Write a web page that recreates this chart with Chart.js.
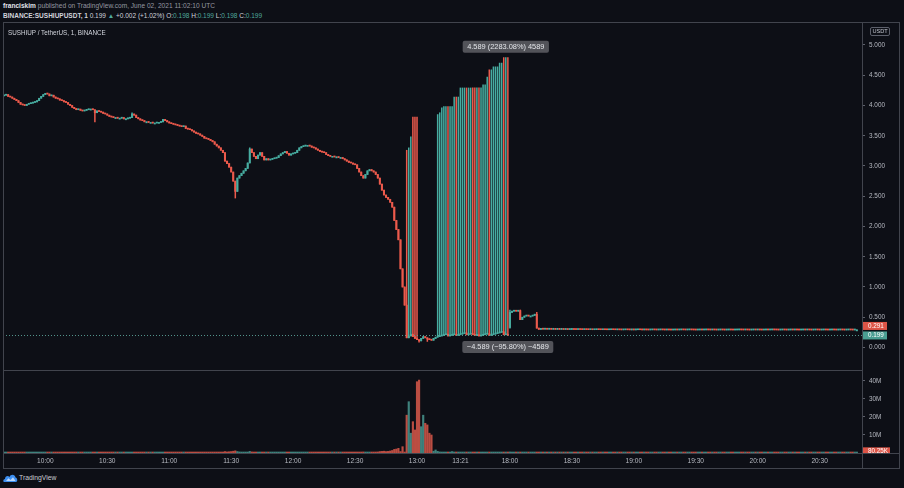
<!DOCTYPE html>
<html><head><meta charset="utf-8">
<script src="https://cdn.jsdelivr.net/npm/chart.js@4.4.1/dist/chart.umd.min.js"></script>
<style>
html,body{margin:0;padding:0;background:#0d0f16;width:904px;height:488px;overflow:hidden;font-family:"Liberation Sans",Arial,"DejaVu Sans",sans-serif;}
.a{position:absolute;white-space:nowrap;}
.ln{position:absolute;background:#41444d;}
#h1{left:3px;top:2px;font-size:6.6px;line-height:8px;color:#9598a1;}
#h1 b{color:#e0e3eb;}
#h2{left:3px;top:12px;font-size:6.5px;line-height:8px;color:#d1d4dc;}
#h2 .g{color:#4fa89d;}
#title{left:8px;top:28.5px;font-size:6.3px;line-height:8px;color:#d1d4dc;}
#usdt{left:870px;top:26.5px;font-size:5.6px;line-height:7px;color:#c3c6ce;border:1px solid #5d606b;border-radius:2px;padding:0 1.5px;}
#tv{left:19px;top:474px;font-size:6.8px;line-height:8px;color:#c8cbd3;}
canvas{position:absolute;}
</style></head>
<body>
<div id="h1" class="a"><b>franciskim</b> published on TradingView.com, June 02, 2021 11:02:10 UTC</div>
<div id="h2" class="a"><b>BINANCE:SUSHIUPUSDT, 1</b> 0.199 <span class="g">▲</span> +0.002 (+1.02%) O:<span class="g">0.198</span> H:<span class="g">0.199</span> L:<span class="g">0.198</span> C:<span class="g">0.199</span></div>
<canvas id="pc" width="896" height="348" style="left:3px;top:22px;width:896px;height:348px"></canvas>
<canvas id="vc" width="896" height="98" style="left:3px;top:370px;width:896px;height:98px"></canvas>
<div class="ln" style="left:3px;top:22px;width:897px;height:1px"></div>
<div class="ln" style="left:3px;top:468px;width:897px;height:1px"></div>
<div class="ln" style="left:3px;top:22px;width:1px;height:447px"></div>
<div class="ln" style="left:899px;top:22px;width:1px;height:447px"></div>
<div class="ln" style="left:862px;top:22px;width:1px;height:447px"></div>
<div class="ln" style="left:3px;top:370px;width:859px;height:1px"></div>
<div class="ln" style="left:3px;top:453px;width:897px;height:1px"></div>
<div id="title" class="a">SUSHIUP / TetherUS, 1, BINANCE</div>
<div id="usdt" class="a">USDT</div>
<svg class="a" style="left:3px;top:473px" width="15" height="10" viewBox="0 0 15 10">
<path d="M1 9 C0 9 0 6 2 6 C2 3 5 2 6.5 4 C7.5 1 12 1 12.5 4.5 C14.5 4.5 15 9 13 9 Z" fill="#3d8ff0"/>
<path d="M3 8 L5.5 5.2 L7.5 7 L10 4.2 L12.5 8 Z" fill="#bcd8fb"/>
</svg>
<div id="tv" class="a">TradingView</div>
<script>
// ---------- data ----------
const sessions = [["09:40", 245], ["18:00", 171]];
const tickTimes = ["10:00","10:30","11:00","11:30","12:00","12:30","13:00","13:21","18:00","18:30","19:00","19:30","20:00","20:30"];
const priceTicks = [0, 0.5, 1, 1.5, 2, 2.5, 3, 3.5, 4, 4.5, 5];
const volTicks = [10, 20, 30, 40];
const firstOpen = 4.16;
const closes = [
4.17,4.18,4.15,4.14,4.12,4.10,4.08,4.05,4.02,4.01,
4.00,4.02,4.03,4.04,4.05,4.06,4.08,4.12,4.15,4.18,
4.20,4.19,4.16,4.17,4.14,4.12,4.11,4.09,4.08,4.06,
4.05,4.02,4.00,3.97,3.95,3.93,3.94,3.92,3.91,3.92,
3.93,3.94,3.94,3.93,3.88,3.91,3.90,3.89,3.87,3.86,
3.84,3.82,3.81,3.80,3.80,3.79,3.79,3.80,3.78,3.78,
3.79,3.80,3.86,3.84,3.80,3.78,3.76,3.75,3.73,3.73,
3.72,3.72,3.71,3.71,3.72,3.72,3.73,3.77,3.75,3.73,
3.71,3.70,3.69,3.68,3.67,3.66,3.65,3.66,3.62,3.61,
3.60,3.58,3.56,3.54,3.53,3.51,3.49,3.46,3.45,3.44,
3.42,3.40,3.36,3.33,3.30,3.26,3.22,3.08,3.04,2.98,
2.90,2.75,2.58,2.80,2.84,2.88,2.92,2.96,3.05,3.28,
3.22,3.16,3.12,3.18,3.22,3.16,3.10,3.12,3.10,3.11,
3.12,3.13,3.14,3.17,3.20,3.22,3.24,3.21,3.18,3.20,
3.21,3.22,3.26,3.30,3.32,3.33,3.34,3.34,3.33,3.31,
3.30,3.28,3.26,3.24,3.23,3.22,3.19,3.17,3.16,3.16,
3.15,3.15,3.14,3.14,3.12,3.10,3.08,3.06,3.05,3.03,
3.02,2.96,2.90,2.84,2.80,2.86,2.92,2.94,2.92,2.90,
2.86,2.80,2.70,2.60,2.52,2.48,2.45,2.40,2.32,2.10,
1.95,1.78,1.30,1.00,0.70,0.16,0.19,0.22,0.18,0.15,
0.13,0.11,0.15,0.18,0.16,0.14,0.13,0.12,0.15,0.17,
0.18,0.19,0.20,0.21,0.22,0.19,0.20,0.21,0.22,0.20,
0.21,0.22,0.23,0.24,0.21,0.22,0.23,0.21,0.20,0.21,
0.19,0.20,0.21,0.22,0.23,0.20,0.21,0.22,0.23,0.24,
0.25,0.26,0.21,0.22,0.20,0.58,0.60,0.61,0.60,0.61,
0.46,0.50,0.52,0.53,0.52,0.52,0.53,0.55,0.32,0.30,
0.305,0.303,0.304,0.302,0.303,0.301,0.302,0.300,0.301,0.300,
0.301,0.299,0.300,0.298,0.299,0.300,0.298,0.297,0.298,0.297,
0.296,0.297,0.296,0.295,0.296,0.294,0.295,0.296,0.295,0.294,
0.295,0.294,0.293,0.294,0.295,0.294,0.293,0.294,0.293,0.292,
0.293,0.294,0.293,0.292,0.293,0.292,0.293,0.294,0.293,0.292,
0.293,0.292,0.291,0.292,0.293,0.292,0.291,0.292,0.293,0.292,
0.291,0.292,0.291,0.290,0.291,0.292,0.291,0.292,0.293,0.292,
0.291,0.292,0.293,0.292,0.291,0.290,0.291,0.292,0.291,0.292,
0.293,0.292,0.291,0.292,0.291,0.290,0.291,0.292,0.291,0.290,
0.291,0.292,0.291,0.290,0.291,0.292,0.293,0.292,0.291,0.292,
0.291,0.290,0.291,0.292,0.291,0.292,0.291,0.290,0.291,0.292,
0.291,0.292,0.293,0.292,0.291,0.290,0.291,0.292,0.291,0.290,
0.291,0.292,0.291,0.292,0.291,0.290,0.291,0.292,0.291,0.292,
0.291,0.290,0.291,0.292,0.291,0.290,0.291,0.292,0.291,0.290,
0.291,0.292,0.291,0.290,0.291,0.292,0.291,0.290,0.291,0.292,
0.291,0.290,0.291,0.291
];
const spikeStart = 195;
const spikeHighs = [
3.26,3.30,3.48,3.81,3.81,3.81,
null,null,null,null,null,null,null,null,null,
3.85,3.88,3.96,3.98,3.98,3.98,3.98,3.98,4.14,4.14,
4.14,4.29,4.29,4.29,4.29,4.29,4.29,4.29,4.29,4.29,
4.29,4.29,4.34,4.34,4.47,4.59,4.59,4.64,4.64,4.64,
4.70,4.70,4.79,4.79,4.79
];
const extraHighs = [[62,3.88],[119,3.30],[245,0.62],[250,0.62],[258,0.58]];
const extraLows = [[44,3.73],[112,2.47],[201,0.09],[205,0.10],[245,0.32]];
const openOverrides = [[245,0.33]];
const volumes = [
0.4,0.3,0.3,0.2,0.3,0.2,0.3,0.4,0.3,0.2,
0.2,0.3,0.2,0.2,0.3,0.2,0.3,0.4,0.3,0.4,
0.5,0.3,0.3,0.2,0.3,0.2,0.2,0.3,0.2,0.3,
0.2,0.3,0.3,0.2,0.2,0.3,0.2,0.2,0.3,0.2,
0.2,0.3,0.2,0.2,0.4,0.3,0.2,0.2,0.2,0.3,
0.2,0.2,0.3,0.2,0.2,0.2,0.3,0.2,0.2,0.3,
0.2,0.3,0.5,0.3,0.2,0.2,0.3,0.2,0.2,0.3,
0.2,0.2,0.3,0.2,0.2,0.2,0.3,0.4,0.2,0.2,
0.3,0.2,0.2,0.3,0.2,0.2,0.3,0.2,0.3,0.2,
0.3,0.2,0.3,0.2,0.3,0.3,0.2,0.3,0.2,0.3,
0.3,0.3,0.4,0.3,0.3,0.4,0.4,0.8,0.6,0.7,
0.8,1.0,1.2,0.8,0.6,0.5,0.4,0.4,0.5,0.9,
0.6,0.4,0.4,0.3,0.4,0.3,0.3,0.2,0.3,0.2,
0.2,0.3,0.2,0.3,0.3,0.2,0.3,0.2,0.2,0.3,
0.2,0.3,0.3,0.4,0.3,0.2,0.3,0.2,0.2,0.3,
0.2,0.3,0.2,0.2,0.3,0.2,0.3,0.2,0.2,0.2,
0.3,0.2,0.2,0.3,0.2,0.3,0.2,0.3,0.3,0.2,
0.3,0.4,0.5,0.5,0.6,0.4,0.4,0.3,0.3,0.4,
0.5,0.6,0.8,0.9,1.0,0.8,0.9,1.1,1.4,2.0,
2.2,2.6,0.8,3.5,0.5,21,28.5,11,17.4,12.8,
39.6,40.5,14.6,21,16.5,15.6,11,10,1.0,1.7,
0.9,0.6,0.5,0.5,0.4,0.4,0.5,0.8,0.4,0.3,
0.3,0.4,0.3,0.3,0.2,0.3,0.3,0.2,0.2,0.3,
0.2,0.2,0.3,0.2,0.2,0.3,0.2,0.2,0.3,0.2,
0.2,0.3,0.2,0.2,0.3,0.6,0.4,0.3,0.3,0.2,
0.3,0.2,0.2,0.2,0.2,0.2,0.2,0.2,0.4,0.3,
0.1,0.1,0.2,0.1,0.1,0.1,0.2,0.1,0.1,0.1,
0.1,0.2,0.1,0.1,0.1,0.1,0.1,0.2,0.1,0.1,
0.1,0.1,0.1,0.2,0.1,0.1,0.1,0.1,0.2,0.1,
0.1,0.1,0.2,0.1,0.1,0.1,0.1,0.1,0.1,0.2,
0.1,0.1,0.1,0.1,0.2,0.1,0.1,0.1,0.1,0.1,
0.2,0.1,0.1,0.1,0.1,0.1,0.2,0.1,0.1,0.1,
0.1,0.1,0.1,0.2,0.1,0.1,0.1,0.1,0.1,0.2,
0.1,0.1,0.1,0.1,0.1,0.2,0.1,0.1,0.1,0.1,
0.2,0.1,0.1,0.1,0.1,0.1,0.1,0.2,0.1,0.1,
0.1,0.1,0.2,0.1,0.1,0.1,0.1,0.1,0.2,0.1,
0.1,0.1,0.1,0.1,0.2,0.1,0.1,0.1,0.1,0.1,
0.1,0.2,0.1,0.1,0.1,0.1,0.2,0.1,0.1,0.1,
0.1,0.1,0.1,0.1,0.2,0.1,0.1,0.1,0.1,0.2,
0.1,0.1,0.2,0.1,0.1,0.1,0.1,0.1,0.1,0.1,
0.1,0.1,0.1,0.2,0.1,0.1,0.1,0.1,0.1,0.1,
0.1,0.1,0.1,0.1
];
const lastPrice = 0.199, markerPrice = 0.291, lastVolumeM = 0.08025;
const upperBoxText = "4.589 (2283.08%) 4589";
const lowerBoxText = "\u22124.589 (\u221295.80%) \u22124589";
const boxIndex = 243;

// ---------- derived ----------
const UP = '#47ada1', DOWN = '#ec5a4c';
const VUP = 'rgba(80,170,160,0.75)', VDOWN = 'rgba(236,95,80,0.78)';
const times = [];
sessions.forEach(([t, n]) => {
  const [h, m] = t.split(':').map(Number);
  for (let k = 0; k < n; k++) {
    const mm = h * 60 + m + k;
    times.push(String(Math.floor(mm / 60)).padStart(2, '0') + ':' + String(mm % 60).padStart(2, '0'));
  }
});
const opens = closes.map((c, i) => i === 0 ? firstOpen : closes[i - 1]);
openOverrides.forEach(([i, v]) => opens[i] = v);
const highs = closes.map((c, i) => Math.max(c, opens[i]));
const lows = closes.map((c, i) => Math.min(c, opens[i]));
spikeHighs.forEach((v, k) => { if (v !== null) highs[spikeStart + k] = Math.max(highs[spikeStart + k], v); });
extraHighs.forEach(([i, v]) => highs[i] = Math.max(highs[i], v));
extraLows.forEach(([i, v]) => lows[i] = Math.min(lows[i], v));
const isUp = closes.map((c, i) => c >= opens[i]);
const candleColors = isUp.map(u => u ? UP : DOWN);
const volColors = isUp.map(u => u ? VUP : VDOWN);
const bodies = closes.map((c, i) => [opens[i], c]);
const wicks = closes.map((c, i) => [lows[i], highs[i]]);

const FONT = '"Liberation Sans", Arial, sans-serif';
const AX = '#b7bac2';

function axisLabel(ctx, text, x, yc, w, h, bg) {
  ctx.fillStyle = bg;
  ctx.fillRect(x, yc - h / 2, w, h);
  ctx.fillStyle = '#ffffff';
  ctx.font = '6.3px ' + FONT;
  ctx.textBaseline = 'middle';
  ctx.textAlign = 'left';
  ctx.fillText(text, x + 6, yc + 0.3);
}
function roundBox(ctx, text, cx, top) {
  ctx.font = '7.4px ' + FONT;
  const w = ctx.measureText(text).width + 9;
  const h = 12, x = cx - w / 2;
  ctx.fillStyle = 'rgba(88,89,95,0.92)';
  ctx.beginPath();
  ctx.roundRect(x, top, w, h, 2);
  ctx.fill();
  ctx.fillStyle = '#e4e6ea';
  ctx.textAlign = 'center';
  ctx.textBaseline = 'middle';
  ctx.fillText(text, cx, top + h / 2 + 0.3);
}

const pricePlugin = {
  id: 'priceExtras',
  afterDatasetsDraw(chart) {
    const { ctx, chartArea, scales } = chart;
    const y = scales.y, x = scales.x;
    const yl = Math.round(y.getPixelForValue(lastPrice)) + 0.5;
    ctx.save();
    ctx.strokeStyle = 'rgba(95,170,160,0.85)';
    ctx.lineWidth = 1;
    ctx.setLineDash([1, 2]);
    ctx.beginPath();
    ctx.moveTo(chartArea.left, yl);
    ctx.lineTo(chartArea.right, yl);
    ctx.stroke();
    ctx.setLineDash([]);
    const maxHigh = Math.max(...highs);
    const cx = x.getPixelForValue(boxIndex);
    roundBox(ctx, upperBoxText, cx, y.getPixelForValue(maxHigh) - 17);
    roundBox(ctx, lowerBoxText, cx + 2, y.getPixelForValue(lastPrice) + 5.5);
    const yg = y.getPixelForValue(lastPrice);
    axisLabel(ctx, lastPrice.toFixed(3), chartArea.right, yg, 25, 8, '#4a9e92');
    axisLabel(ctx, markerPrice.toFixed(3), chartArea.right, Math.min(y.getPixelForValue(markerPrice), yg - 9.5), 25, 8, '#dd5547');
    ctx.restore();
  }
};
const volPlugin = {
  id: 'volExtras',
  afterDatasetsDraw(chart) {
    const { ctx, chartArea, scales } = chart;
    ctx.save();
    ctx.beginPath();
    ctx.rect(chartArea.right, chartArea.top, 40, chartArea.bottom - chartArea.top);
    ctx.clip();
    axisLabel(ctx, (lastVolumeM * 1000).toFixed(2) + 'K', chartArea.right, scales.y.getPixelForValue(lastVolumeM) - 1.5, 28, 8, '#dd5547');
    ctx.restore();
  }
};

const common = {
  responsive: false, animation: false, events: [],
  layout: { padding: 0 },
  plugins: { legend: { display: false }, tooltip: { enabled: false } }
};
function yAxis(min, max, tickVals, fmt) {
  return {
    position: 'right', min, max,
    afterBuildTicks: s => { s.ticks = tickVals.map(v => ({ value: v })); },
    afterFit: s => { s.width = 37; s.paddingTop = 0; s.paddingBottom = 0; },
    border: { display: false },
    grid: { drawOnChartArea: false, drawTicks: true, tickLength: 3, color: '#5d606b' },
    ticks: { color: AX, font: { family: FONT, size: 6.4 }, padding: 4, callback: fmt }
  };
}

new Chart(document.getElementById('pc'), {
  type: 'bar',
  data: {
    labels: times,
    datasets: [
      { data: wicks, backgroundColor: candleColors, barThickness: 0.85, grouped: false, order: 2, borderWidth: 0 },
      { data: bodies, backgroundColor: candleColors, barThickness: 1.4, minBarLength: 1, grouped: false, order: 1, borderWidth: 0 }
    ]
  },
  options: Object.assign({}, common, {
    scales: {
      x: { display: false, offset: true },
      y: yAxis(-0.372, 5.380, priceTicks, v => Number(v).toFixed(3))
    }
  }),
  plugins: [pricePlugin]
});

new Chart(document.getElementById('vc'), {
  type: 'bar',
  data: {
    labels: times,
    datasets: [
      { data: volumes, backgroundColor: volColors, barThickness: 1.5, minBarLength: 1, borderWidth: 0 }
    ]
  },
  options: Object.assign({}, common, {
    scales: {
      x: {
        offset: true,
        afterFit: s => { s.height = 15; s.paddingLeft = 0; s.paddingRight = 0; },
        border: { display: false },
        grid: { drawOnChartArea: false, tickLength: 3, color: c => tickTimes.includes(times[c.index]) ? '#5d606b' : 'rgba(0,0,0,0)' },
        ticks: {
          autoSkip: false, maxRotation: 0, minRotation: 0, padding: 1.5,
          color: AX, font: { family: FONT, size: 6.6 },
          callback: (v, i) => tickTimes.includes(times[i]) ? times[i] : null
        }
      },
      y: yAxis(0, 46.1, volTicks, v => v + 'M')
    }
  }),
  plugins: [volPlugin]
});
</script>
</body></html>
